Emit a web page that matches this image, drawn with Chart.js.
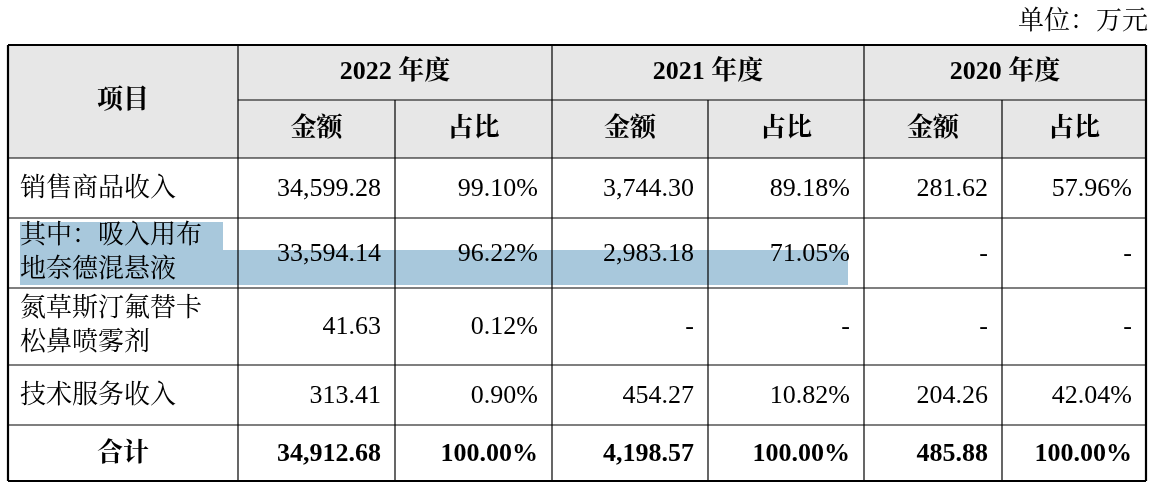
<!DOCTYPE html>
<html>
<head>
<meta charset="utf-8">
<script src="https://cdn.jsdelivr.net/npm/chart.js@4"></script>
<style>
  body { margin: 0; background: #fff; }
</style>
</head>
<body>
<canvas id="tbl" width="1154" height="488"></canvas>
<script>
// 数据
const years = ["2022 年度", "2021 年度", "2020 年度"];
const subHeads = ["金额", "占比"];
const rowLabels = [
  ["销售商品收入"],
  ["其中：吸入用布", "地奈德混悬液"],
  ["氮草斯汀氟替卡", "松鼻喷雾剂"],
  ["技术服务收入"],
  ["合计"]
];
const amount2022 = ["34,599.28", "33,594.14", "41.63", "313.41", "34,912.68"];
const share2022 = ["99.10%", "96.22%", "0.12%", "0.90%", "100.00%"];
const amount2021 = ["3,744.30", "2,983.18", "-", "454.27", "4,198.57"];
const share2021 = ["89.18%", "71.05%", "-", "10.82%", "100.00%"];
const amount2020 = ["281.62", "-", "-", "204.26", "485.88"];
const share2020 = ["57.96%", "-", "-", "42.04%", "100.00%"];
const unitText = "单位：万元";

// 版面
const colEdges = [8, 238, 395, 552, 708, 864, 1002, 1146];
const rowEdges = [45, 100, 158, 218, 288, 365, 425, 481];
const SERIF = '"Liberation Serif", "Noto Serif CJK SC", "Noto Sans CJK SC", serif';

const tablePlugin = {
  id: 'tableDraw',
  afterDraw: (chart) => {
    const ctx = chart.ctx;
    const xs = chart.scales.x, ys = chart.scales.y;
    const X = v => xs.getPixelForValue(v);
    const Y = v => ys.getPixelForValue(v);
    ctx.save();

    // 表头底色
    ctx.fillStyle = '#e7e7e7';
    ctx.fillRect(X(colEdges[0]), Y(rowEdges[0]), X(colEdges[7]) - X(colEdges[0]), Y(rowEdges[2]) - Y(rowEdges[0]));

    // 选中高亮
    ctx.fillStyle = '#a8c8dc';
    ctx.fillRect(X(20), Y(222), X(223) - X(20), Y(250) - Y(222));
    ctx.fillRect(X(20), Y(250), X(848) - X(20), Y(285) - Y(250));

    // 线
    ctx.strokeStyle = '#000';
    const line = (x1, y1, x2, y2, w) => {
      ctx.lineWidth = w;
      ctx.beginPath();
      ctx.moveTo(X(x1), Y(y1));
      ctx.lineTo(X(x2), Y(y2));
      ctx.stroke();
    };
    rowEdges.forEach((r, i) => {
      const w = (i === 0 || i === rowEdges.length - 1) ? 2.2 : 1.2;
      if (i === 1) line(colEdges[1], r, colEdges[7], r, w);
      else line(colEdges[0], r, colEdges[7], r, w);
    });
    colEdges.forEach((c, i) => {
      const w = (i === 0 || i === colEdges.length - 1) ? 2.2 : 1.2;
      if (i === 2 || i === 4 || i === 6) line(c, rowEdges[1], c, rowEdges[7], w);
      else line(c, rowEdges[0], c, rowEdges[7], w);
    });

    ctx.fillStyle = '#000';
    ctx.textBaseline = 'middle';
    const text = (s, x, y, align, bold) => {
      ctx.font = (bold ? 'bold ' : '') + '26px ' + SERIF;
      ctx.textAlign = align;
      ctx.fillText(s, X(x), Y(y));
    };

    text(unitText, 1148, 22, 'right', false);

    // 表头
    text("项目", (colEdges[0] + colEdges[1]) / 2, (rowEdges[0] + rowEdges[2]) / 2, 'center', true);
    years.forEach((yr, i) => {
      const a = colEdges[1 + i * 2], b = colEdges[3 + i * 2];
      text(yr, (a + b) / 2, (rowEdges[0] + rowEdges[1]) / 2, 'center', true);
      subHeads.forEach((h, j) => {
        const c1 = colEdges[1 + i * 2 + j], c2 = colEdges[2 + i * 2 + j];
        text(h, (c1 + c2) / 2, (rowEdges[1] + rowEdges[2]) / 2, 'center', true);
      });
    });

    // 数据行
    const cols = [amount2022, share2022, amount2021, share2021, amount2020, share2020];
    rowLabels.forEach((lbl, r) => {
      const top = rowEdges[r + 2], bot = rowEdges[r + 3];
      const mid = (top + bot) / 2 + 1;
      const isTotal = r === rowLabels.length - 1;
      if (isTotal) {
        text(lbl[0], (colEdges[0] + colEdges[1]) / 2, mid, 'center', true);
      } else if (lbl.length === 1) {
        text(lbl[0], 20, mid, 'left', false);
      } else {
        text(lbl[0], 20, mid - 18, 'left', false);
        text(lbl[1], 20, mid + 16, 'left', false);
      }
      cols.forEach((arr, c) => {
        text(arr[r], colEdges[c + 2] - 14, mid, 'right', isTotal);
      });
    });
    ctx.restore();
  }
};

new Chart(document.getElementById('tbl'), {
  type: 'scatter',
  data: { datasets: [{ data: [] }] },
  options: {
    responsive: false,
    animation: false,
    layout: { padding: 0 },
    plugins: { legend: { display: false }, tooltip: { enabled: false } },
    scales: {
      x: { type: 'linear', min: 0, max: 1154, display: false },
      y: { type: 'linear', min: 0, max: 488, reverse: true, display: false }
    }
  },
  plugins: [tablePlugin]
});
</script>
</body>
</html>
